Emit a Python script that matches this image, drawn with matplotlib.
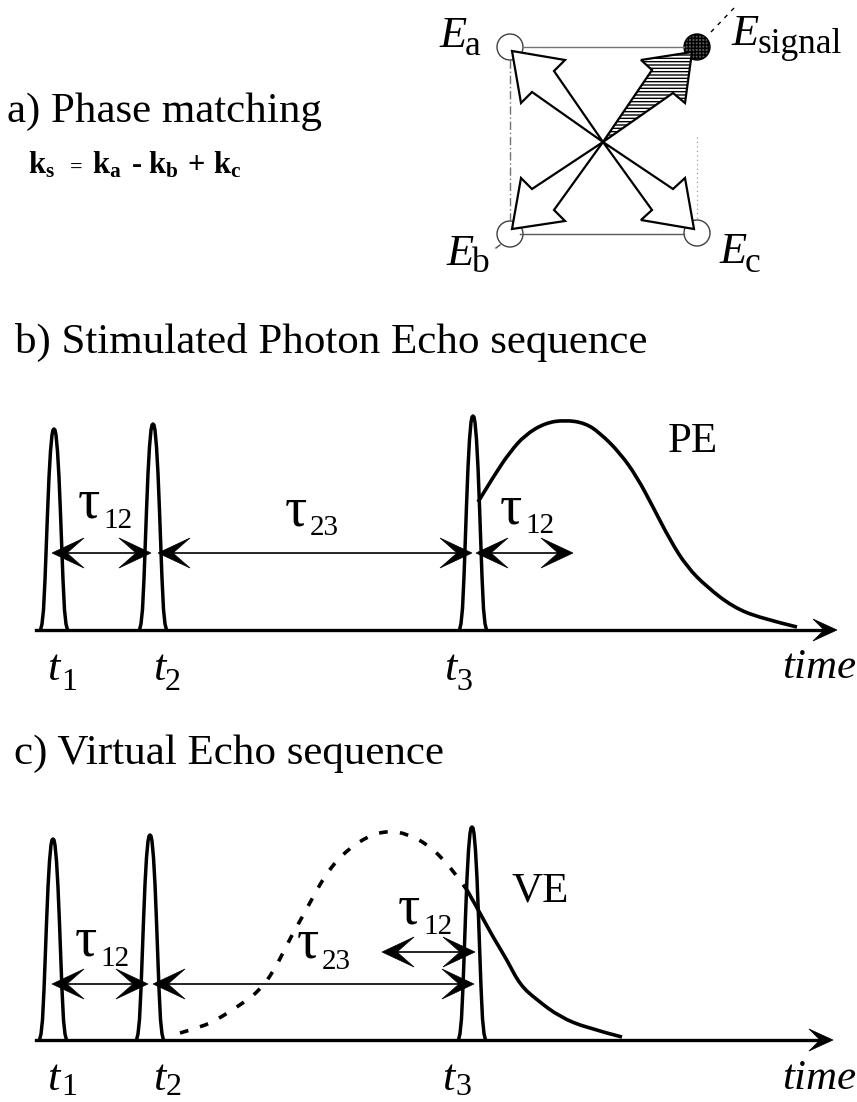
import matplotlib
matplotlib.use("Agg")
import matplotlib.pyplot as plt
from matplotlib.patches import Circle, Polygon, PathPatch
from matplotlib.path import Path

plt.rcParams['font.family'] = ['Liberation Serif', 'DejaVu Serif']
plt.rcParams['mathtext.fontset'] = 'custom'
plt.rcParams['mathtext.rm'] = 'Liberation Serif'
plt.rcParams['mathtext.it'] = 'Liberation Serif:italic'
plt.rcParams['mathtext.bf'] = 'Liberation Serif:bold'
plt.rcParams['hatch.linewidth'] = 1.0

circles = {"a": (510, 47), "b": (510, 234), "c": (697, 233), "signal": (697, 47)}

arrow_a = [(512, 51), (565, 60), (554, 71), (603, 142), (532, 92), (521, 103)]
arrow_b = [(512, 229), (565, 221), (554, 210), (603, 142), (532, 189), (521, 178)]
arrow_c = [(694, 229), (641, 220), (652, 210), (603, 142), (673, 189), (685, 178)]
arrow_s = [(692, 52), (641, 60), (652, 70), (603, 142), (673, 93), (685, 103)]

# pulse shape: offset from the pulse centre, fraction of the pulse height
pulse_dx = [-13.5, -12, -10.5, -9, -8, -6.5, -5, -3.5, -2, -1, 0, 1, 2, 3.5, 5, 6.5, 8, 9, 10.5, 12, 13.5]
pulse_frac = [0, 0.03, 0.10, 0.25, 0.38, 0.58, 0.76, 0.89, 0.97, 0.995, 1,
              0.995, 0.97, 0.89, 0.76, 0.58, 0.38, 0.25, 0.10, 0.03, 0]

b_base = 630
b_pulse_x = [54, 153, 473]
b_pulse_top = [429, 424, 416]
c_base = 1040
c_pulse_x = [53, 150, 472]
c_pulse_top = [839, 835, 827]

pe_x = [478, 495, 510, 525, 545, 565, 585, 600, 620, 637, 653, 670, 687, 707, 733, 760, 797]
pe_y = [502, 474, 452, 435, 423, 420, 423, 433, 453, 477, 507, 540, 567, 587, 607, 618, 627]

ve_dash_x = [180, 205, 223, 243, 260, 273, 283, 293, 304, 314, 325, 338, 354, 373, 391, 407, 427, 443, 457, 467]
ve_dash_y = [1033, 1026, 1016, 1003, 990, 972, 953, 933, 914, 895, 876, 859, 845, 834, 831, 834, 844, 859, 876, 890]
ve_x = [467, 480, 493, 507, 520, 537, 560, 587, 622]
ve_y = [890, 913, 937, 960, 985, 1000, 1017, 1028, 1037]

titles = ["a) Phase matching", "b) Stimulated Photon Echo sequence", "c) Virtual Echo sequence"]
title_x = [7, 15, 14]
title_y = [122, 353, 764]

fig = plt.figure(figsize=(8.57, 11.02), dpi=100)
ax = fig.add_axes([0, 0, 1, 1])
ax.set_xlim(0, 857)
ax.set_ylim(1102, 0)
ax.axis("off")


def smooth(xs, ys, **kw):
    # quadratic curve through the midpoints of the read points
    verts = [(xs[0], ys[0])]
    codes = [Path.MOVETO]
    for i in range(1, len(xs) - 1):
        verts.append((xs[i], ys[i]))
        codes.append(Path.CURVE3)
        if i < len(xs) - 2:
            verts.append(((xs[i] + xs[i + 1]) / 2, (ys[i] + ys[i + 1]) / 2))
        else:
            verts.append((xs[-1], ys[-1]))
        codes.append(Path.CURVE3)
    ax.add_patch(PathPatch(Path(verts, codes), fc="none", ec="black", **kw))


def pulse(x0, top, base):
    xs = [x0 + d for d in pulse_dx]
    ys = [base - f * (base - top) for f in pulse_frac]
    ax.plot(xs, ys, color="black", lw=2.5, solid_joinstyle="round", zorder=3)


def head(tip, y, sign):
    # barbed head pointing left (sign=-1) or right (sign=1)
    pts = [(tip, y), (tip - sign * 32, y - 15), (tip - sign * 15, y), (tip - sign * 32, y + 15)]
    ax.add_patch(Polygon(pts, closed=True, fc="black", ec="black", lw=0.5, zorder=4))


def double_arrow(x1, x2, y):
    ax.plot([x1 + 8, x2 - 8], [y, y], color="black", lw=1.2, zorder=2)
    head(x1, y, -1)
    head(x2, y, 1)


def axis_line(x1, x2, y):
    ax.plot([x1, x2 - 10], [y, y], color="black", lw=2.4, zorder=2)
    pts = [(x2, y), (x2 - 24, y - 11), (x2 - 13, y), (x2 - 24, y + 11)]
    ax.add_patch(Polygon(pts, closed=True, fc="black", ec="black", lw=0.5, zorder=4))


def tau(x, y, sub, sub_y):
    ax.text(x, y, "τ", fontsize=40, ha="left", va="baseline")
    ax.text(x + 25, sub_y, sub, fontsize=21, ha="left", va="baseline")


def ef(x, y, sub, sub_x, sub_y):
    ax.text(x, y, "E", fontsize=32, style="italic", ha="left", va="baseline")
    ax.text(sub_x, sub_y, sub, fontsize=25.5, ha="left", va="baseline")


def tlabel(x, y, sub, sub_x, sub_y):
    ax.text(x, y, "t", fontsize=32, style="italic", ha="left", va="baseline")
    ax.text(sub_x, sub_y, sub, fontsize=23, ha="left", va="baseline")


# square behind the phase matching arrows
ax.plot([523, 684], [47, 47], color="0.45", lw=1.0)
ax.plot([520, 684], [234, 234], color="0.35", lw=1.0)
ax.plot([510, 510], [60, 222], color="0.45", lw=1.0, ls=(0, (6, 2, 1, 2)))
ax.plot([697, 697], [137, 220], color="0.55", lw=0.8, ls=(0, (1, 3)))
ax.plot([711, 734], [32, 8], color="black", lw=1.0, ls=(0, (3, 4)))
ax.plot([496, 500], [248, 245], color="0.3", lw=1.0)

for key in ["a", "b", "c"]:
    ax.add_patch(Circle(circles[key], 13, fc="white", ec="0.25", lw=1.0, zorder=1))
ax.add_patch(Circle(circles["signal"], 13, fc="0.35", ec="black", lw=1.0, hatch="+++++", zorder=1))

for pts in [arrow_a, arrow_b, arrow_c]:
    ax.add_patch(Polygon(pts, closed=True, fc="white", ec="black", lw=1.6, joinstyle="miter", zorder=2))
ax.add_patch(Polygon(arrow_s, closed=True, fc="white", ec="black", lw=1.6, hatch="-----", zorder=2))

ef(440, 47, "a", 465, 55)
ef(447, 265, "b", 472, 272)
ef(720, 263, "c", 745, 272)
ef(732, 45, "signal", 758, 53)

for i in range(3):
    ax.text(title_x[i], title_y[i], titles[i], fontsize=31, ha="left", va="baseline")
ax.text(28, 173, r"$\mathbf{k_s}$", fontsize=22, ha="left", va="baseline")
ax.text(70, 173, "=", fontsize=16, fontweight="bold", ha="left", va="baseline")
ax.text(92, 173, r"$\mathbf{k_a}$", fontsize=22, ha="left", va="baseline")
ax.text(132, 173, "-", fontsize=22, fontweight="bold", ha="left", va="baseline")
ax.text(148, 173, r"$\mathbf{k_b}$", fontsize=22, ha="left", va="baseline")
ax.text(187, 173, "+", fontsize=22, fontweight="bold", ha="left", va="baseline")
ax.text(213, 173, r"$\mathbf{k_c}$", fontsize=22, ha="left", va="baseline")

# b) stimulated echo
axis_line(36, 837, b_base)
for x0, top in zip(b_pulse_x, b_pulse_top):
    pulse(x0, top, b_base)
smooth(pe_x, pe_y, lw=2.6, zorder=3)
double_arrow(52, 151, 553)
double_arrow(158, 472, 553)
double_arrow(476, 573, 553)
tau(78, 518, "12", 528)
tau(285, 525, "23", 535)
tau(500, 523, "12", 533)
ax.text(668, 452, "PE", fontsize=31, ha="left", va="baseline")
tlabel(47, 680, "1", 61, 690)
tlabel(153, 680, "2", 165, 690)
tlabel(444, 680, "3", 456, 690)
ax.text(782, 678, "time", fontsize=31, style="italic", ha="left", va="baseline")

# c) virtual echo
axis_line(36, 833, c_base)
for x0, top in zip(c_pulse_x, c_pulse_top):
    pulse(x0, top, c_base)
smooth(ve_dash_x, ve_dash_y, lw=2.6, ls=(0, (2.4, 3.4)), zorder=3)
smooth(ve_x, ve_y, lw=2.6, zorder=3)
double_arrow(52, 148, 984)
double_arrow(153, 474, 984)
double_arrow(382, 475, 952)
tau(75, 955, "12", 966)
tau(297, 958, "23", 969)
tau(398, 923, "12", 934)
ax.text(512, 902, "VE", fontsize=31, ha="left", va="baseline")
tlabel(47, 1090, "1", 61, 1095)
tlabel(153, 1090, "2", 166, 1095)
tlabel(442, 1090, "3", 455, 1095)
ax.text(782, 1089, "time", fontsize=31, style="italic", ha="left", va="baseline")

fig.savefig("out.png", dpi=100)
